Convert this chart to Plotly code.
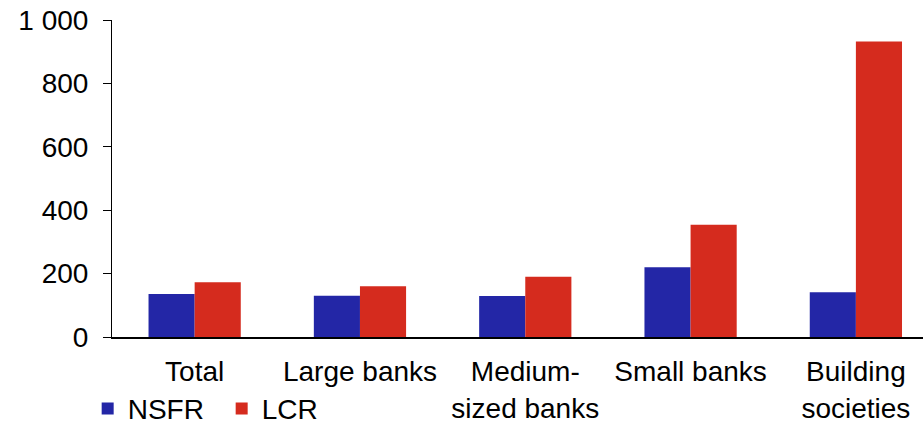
import plotly.graph_objects as go

categories = ["Total", "Large banks", "Medium-<br>sized banks", "Small banks", "Building<br>societies"]
nsfr = [136, 130, 129, 220, 141]
lcr = [173, 160, 190, 354, 932]
tick_vals = [0, 200, 400, 600, 800, 1000]
tick_text = ["0", "200", "400", "600", "800", "1 000"]

FONT = "Liberation Sans, Arial, sans-serif"
BLUE = "#2326A6"
RED = "#D52B1E"

fig = go.Figure()
fig.add_trace(go.Bar(x=categories, y=nsfr, name="NSFR", marker_color=BLUE, marker_line_width=0))
fig.add_trace(go.Bar(x=categories, y=lcr, name="LCR", marker_color=RED, marker_line_width=0))

fig.update_layout(
    width=923, height=426,
    margin=dict(l=112, r=0, t=20, b=89, pad=0, autoexpand=False),
    paper_bgcolor="white", plot_bgcolor="white",
    font=dict(family=FONT, size=28, color="black"),
    barmode="group", bargap=0.442, bargroupgap=0,
    showlegend=True,
    legend=dict(orientation="h", x=-0.03, xanchor="left", y=-0.305, yanchor="bottom",
                font=dict(size=28), bgcolor="rgba(0,0,0,0)",
                entrywidth=89, entrywidthmode="pixels", tracegroupgap=0,
                itemwidth=30),
)
fig.update_xaxes(
    type="category", range=[-0.5, 4.406],
    showline=True, linecolor="black", linewidth=1.5,
    ticks="", showgrid=False, zeroline=False,
    ticklabelstandoff=9, tickfont=dict(size=28),
)
fig.update_yaxes(
    range=[0, 1000], tickvals=tick_vals, ticktext=tick_text,
    showline=True, linecolor="black", linewidth=1,
    ticks="outside", ticklen=8, tickcolor="black", tickwidth=1,
    showgrid=False, zeroline=False, ticklabelstandoff=9,
    tickfont=dict(size=28),
)

fig.write_html("out.html")
